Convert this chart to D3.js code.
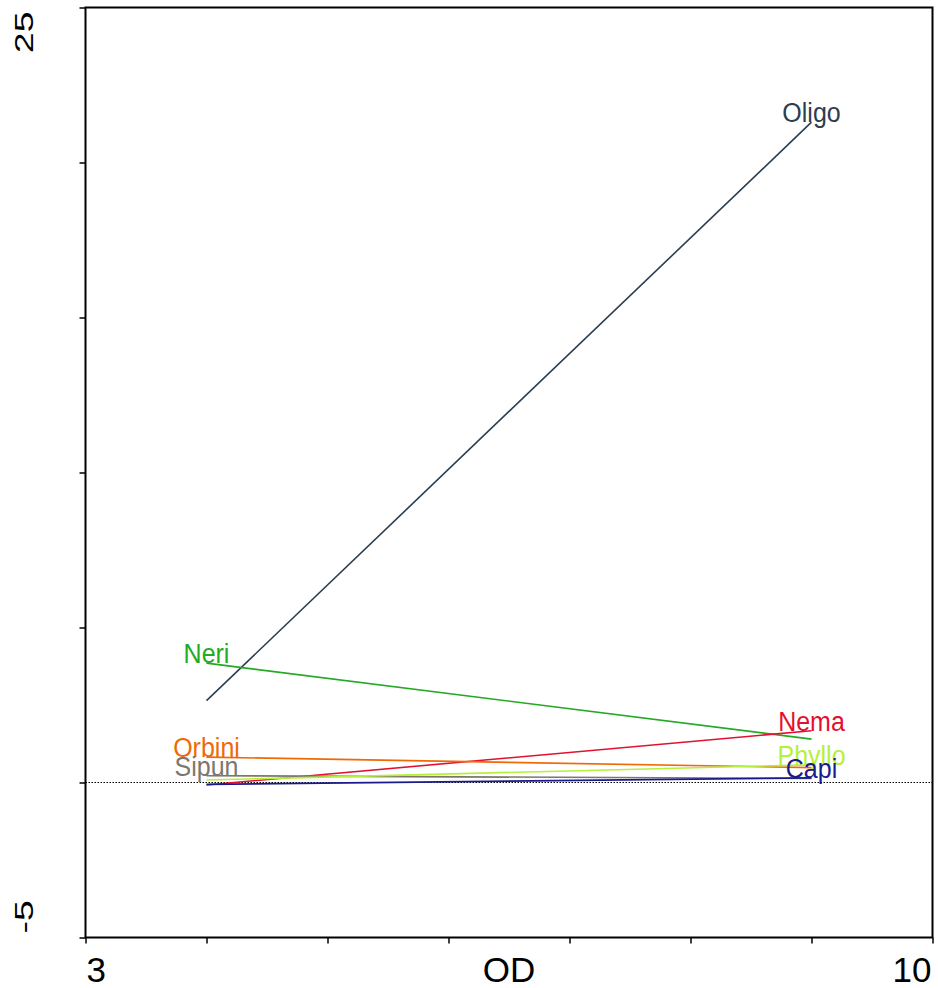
<!DOCTYPE html>
<html><head><meta charset="utf-8">
<script src="https://cdn.jsdelivr.net/npm/d3@7"></script>
<style>body{margin:0;background:#fff}svg{display:block}text{font-family:"Liberation Sans",Arial,sans-serif}</style>
</head><body>
<svg id="c" width="938" height="988"></svg>
<script>
const taxa = ["Oligo","Neri","Nema","Orbini","Sipun","Phyllo","Capi"];
const startX = [4,4,4,4,4,4,4];
const endX = [9,9,9,9,9,9,9];
const startY = [2.64,3.85,-0.08,0.82,0.22,0.08,-0.06];
const endY = [21.3,1.40,1.67,0.48,0.13,0.57,0.15];
const labelAt = ["end","start","end","start","start","end","end"];
const colors = ["#2b3e50","#22aa22","#e3112f","#ee6a05","#7d766d","#b5f03c","#1a1a8a"];
const xTicks = [3,4,5,6,7,8,9,10];
const yTicks = [-5,0,5,10,15,20,25];
const xDomain = [3,10], yDomain = [-5,25];

const svg = d3.select("#c");
const L=85.5,R=932.5,T=7.5,B=937.5;
const x = d3.scaleLinear().domain(xDomain).range([L,R]);
const y = d3.scaleLinear().domain(yDomain).range([B,T]);

// zero line
svg.append("line").attr("x1",L).attr("x2",R).attr("y1",y(0)).attr("y2",y(0))
  .attr("stroke","#000").attr("stroke-width",1).attr("stroke-dasharray","1.5,1.5");

// series lines
taxa.forEach((t,i)=>{
  svg.append("line").attr("x1",x(startX[i])).attr("y1",y(startY[i]))
    .attr("x2",x(endX[i])).attr("y2",y(endY[i]))
    .attr("stroke",colors[i]).attr("stroke-width",1.6);
});
taxa.forEach((t,i)=>{
  const px = labelAt[i]==="end"?x(endX[i]):x(startX[i]);
  const py = labelAt[i]==="end"?y(endY[i]):y(startY[i]);
  svg.append("text").attr("transform",`translate(${px},${py}) scale(1,1.08)`).attr("text-anchor","middle")
    .attr("font-size",25).attr("fill",colors[i]).text(t);
});

// frame
svg.append("rect").attr("x",L).attr("y",T).attr("width",R-L).attr("height",B-T)
  .attr("fill","none").attr("stroke","#000").attr("stroke-width",2);

// axes
const xa = svg.append("g").attr("transform",`translate(0,${B})`)
  .call(d3.axisBottom(x).tickValues(xTicks).tickSize(6).tickFormat(""));
const ya = svg.append("g").attr("transform",`translate(${L},0)`)
  .call(d3.axisLeft(y).tickValues(yTicks).tickSize(6).tickFormat(""));
[xa,ya].forEach(g=>{g.select(".domain").remove();g.selectAll("line").attr("stroke","#000").attr("stroke-width",1.5);});

// tick labels (ends only)
svg.append("text").attr("x",x(xDomain[0])+1).attr("y",982).attr("font-size",35).attr("text-anchor","start").text(xTicks[0]);
svg.append("text").attr("x",x(xDomain[1])-1).attr("y",982).attr("font-size",35).attr("text-anchor","end").text(xTicks[xTicks.length-1]);
svg.append("text").attr("x",(L+R)/2).attr("y",982).attr("font-size",35).attr("text-anchor","middle").text("OD");
svg.append("text").attr("transform",`translate(33,${y(yDomain[1])+4}) rotate(-90) scale(1.5,1)`).attr("font-size",25).attr("text-anchor","end").text(yTicks[yTicks.length-1]);
svg.append("text").attr("transform",`translate(33,${y(yDomain[0])-4}) rotate(-90) scale(1.5,1)`).attr("font-size",25).attr("text-anchor","start").text(yTicks[0]);
</script>
</body></html>
